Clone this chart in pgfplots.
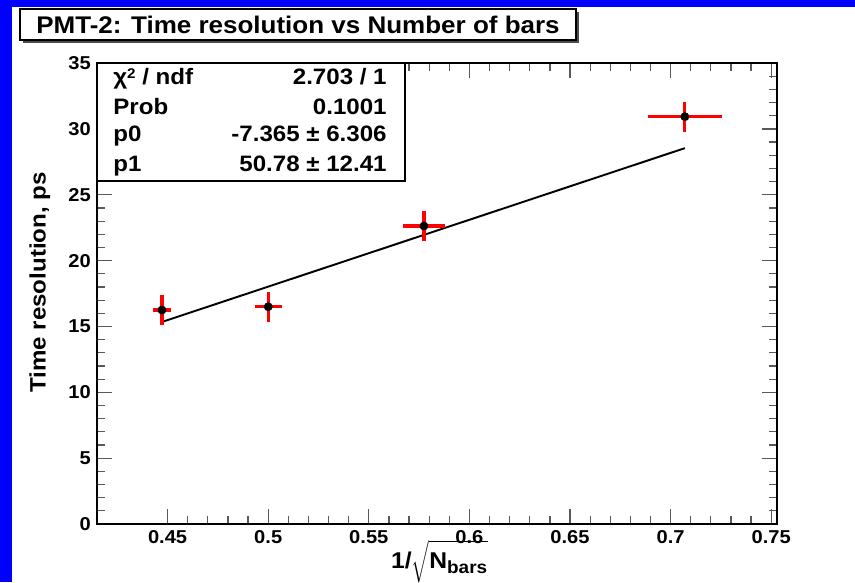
\documentclass[border=0pt]{standalone}
\usepackage{fontspec}
\setmainfont{Liberation Sans}[FakeStretch=1.08]
\usepackage{pgfplots}
\pgfplotsset{compat=1.18}
\usepackage{pgfplotstable}

% measured points, errors in x and y
\pgfplotstableread{
x      y      ex      ey
0.4472 16.25  0.0047  1.15
0.5000 16.50  0.0068  1.15
0.5774 22.63  0.0103  1.15
0.7071 30.93  0.0182  1.15
}\pmtdata

\begin{document}
\begin{tikzpicture}[x=0.02cm,y=0.02cm]
% canvas in pixels of the 855x582 frame, y counted from the bottom
\fill[blue] (0,0) rectangle (855,582);
\fill[white] (12,0) rectangle (855,575);
\useasboundingbox (0,0) rectangle (855,582);

\begin{axis}[
  at={(1.94cm,1.16cm)}, anchor=south west,
  scale only axis,
  width=13.6cm, height=9.22cm,
  xmin=0.4149, xmax=0.7528,
  ymin=0, ymax=35,
  xtick={0.45,0.5,0.55,0.6,0.65,0.7,0.75},
  ytick={0,5,10,15,20,25,30,35},
  minor x tick num=4,
  minor y tick num=4,
  tick align=inside,
  tick pos=both,
  major tick length=0.3cm,
  minor tick length=0.16cm,
  tick style={black!65, line width=0.7pt},
  axis line style={line width=0.9pt},
  /pgf/number format/assume math mode=true,
  ticklabel style={font=\bfseries\fontsize{10.6}{12}\selectfont},
  ylabel={Time resolution, ps},
  ylabel style={font=\bfseries\fontsize{12.7}{14}\selectfont,
    at={(axis description cs:-0.084,0.524)}, anchor=center, rotate=0},
  xlabel={1/$\sqrt{\vphantom{\Big|}\mbox{N}_{\mbox{\fontsize{10}{11}\selectfont bars}}}$},
  xlabel style={font=\bfseries\fontsize{13}{14}\selectfont,
    at={(axis description cs:0.504,-0.082)}, anchor=center},
]
\addplot[black, line width=1.1pt] coordinates {(0.4472,15.344) (0.7071,28.542)};
\addplot[
  only marks, mark=*, mark size=2.3pt, black,
  error bars/.cd,
    x dir=both, x explicit,
    y dir=both, y explicit,
    error mark=none,
    error bar style={red, line width=1.8pt},
] table[x=x, y=y, x error=ex, y error=ey] {\pmtdata};
\end{axis}

% statistics box
\draw[line width=0.9pt, fill=white] (97,401) rectangle (405,519);
\begin{scope}[font=\bfseries\fontsize{12.7}{14}\selectfont]
\node[anchor=base west, inner sep=0] at (113,497) {χ\raisebox{0.55ex}{\fontsize{8}{9}\selectfont 2} / ndf};
\node[anchor=base east, inner sep=0] at (387,497) {2.703 / 1};
\node[anchor=base west, inner sep=0] at (113,467) {Prob};
\node[anchor=base east, inner sep=0] at (387,467) {0.1001};
\node[anchor=base west, inner sep=0] at (113,440) {p0};
\node[anchor=base east, inner sep=0] at (387,440) {-7.365 ± 6.306};
\node[anchor=base west, inner sep=0] at (113,410) {p1};
\node[anchor=base east, inner sep=0] at (387,410) {50.78 ± 12.41};
\end{scope}

% title box with shadow
\fill[black!70] (23,539) rectangle (579,570);
\draw[line width=0.8pt, fill=white] (20,542) rectangle (576,573);
\node[font=\bfseries\fontsize{13.7}{15}\selectfont, inner sep=0] at (298,557.5) {PMT-2: Time resolution vs Number of bars};
\end{tikzpicture}
\end{document}
